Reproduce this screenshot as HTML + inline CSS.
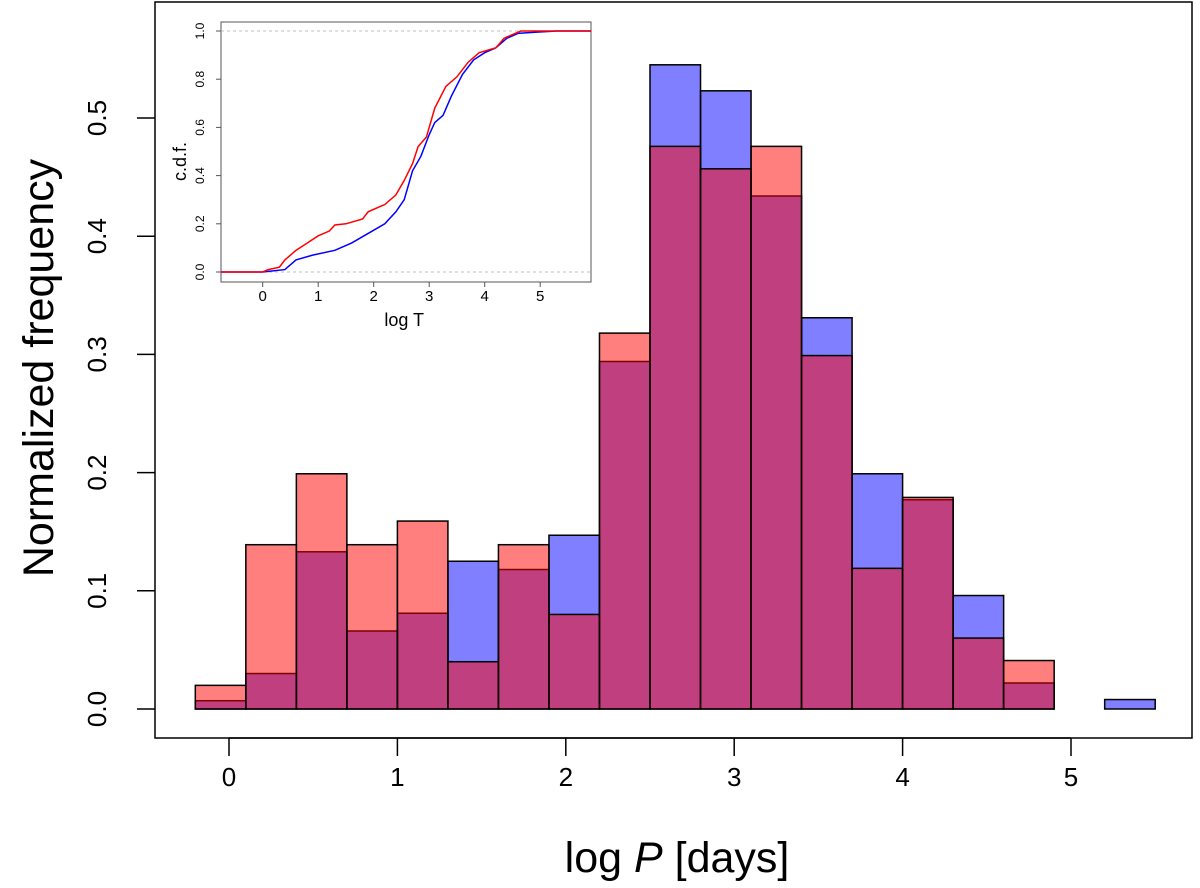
<!DOCTYPE html>
<html><head><meta charset="utf-8"><style>
body{margin:0;background:#fff}
svg{display:block;font-family:"Liberation Sans",Arial,sans-serif}
</style></head><body>
<svg id="chart" width="1200" height="888" viewBox="0 0 1200 888">
<rect x="0" y="0" width="1200" height="888" fill="#fff"/>
<g id="bars"></g>
<rect x="155" y="2" width="1037" height="736" fill="none" stroke="#000" stroke-width="1.5"/>
<g id="axes"></g>
<text transform="translate(53,368) rotate(-90)" text-anchor="middle" font-size="43">Normalized frequency</text>
<text x="677" y="872" text-anchor="middle" font-size="43">log <tspan font-style="italic">P</tspan> [days]</text>
<g id="inset"></g>
</svg>
<script>
const binEdgesStart = -0.2;
const binWidth = 0.3;
const redValues = [0.020,0.139,0.199,0.139,0.159,0.040,0.139,0.080,0.318,0.476,0.457,0.476,0.299,0.119,0.179,0.060,0.041,0,0];
const blueValues = [0.007,0.030,0.133,0.066,0.081,0.125,0.118,0.147,0.294,0.545,0.523,0.434,0.331,0.199,0.177,0.096,0.022,0,0.008];
const xTicks = [0,1,2,3,4,5];
const yTicks = [0.0,0.1,0.2,0.3,0.4,0.5];
const yTickLabels = ["0.0","0.1","0.2","0.3","0.4","0.5"];

const redCdfX = [-0.75,0,0.1,0.3,0.4,0.6,0.8,1.0,1.2,1.3,1.5,1.8,1.9,2.2,2.4,2.55,2.7,2.8,2.95,3.1,3.3,3.5,3.7,3.9,4.2,4.35,4.65,5.92];
const redCdfY = [0,0,0.01,0.02,0.05,0.09,0.12,0.15,0.17,0.195,0.2,0.22,0.25,0.28,0.32,0.38,0.45,0.52,0.56,0.68,0.77,0.81,0.87,0.91,0.93,0.97,1.0,1.0];
const blueCdfX = [-0.75,0,0.4,0.6,0.9,1.3,1.6,1.9,2.2,2.4,2.55,2.7,2.85,3.0,3.1,3.25,3.4,3.6,3.8,4.0,4.2,4.4,4.6,4.9,5.3,5.92];
const blueCdfY = [0,0,0.01,0.05,0.07,0.09,0.12,0.16,0.2,0.25,0.3,0.42,0.48,0.57,0.62,0.65,0.73,0.82,0.88,0.91,0.93,0.97,0.99,0.995,1.0,1.0];
const insetXTicks = [0,1,2,3,4,5];
const insetYTicks = [0,0.2,0.4,0.6,0.8,1.0];
const insetYTickLabels = ["0.0","0.2","0.4","0.6","0.8","1.0"];

const NS = "http://www.w3.org/2000/svg";
const X = v => 229 + v*168.4;
const Y = v => 709 - v*1182;
function mk(tag, attrs, parent){const e=document.createElementNS(NS,tag);for(const k in attrs)e.setAttribute(k,attrs[k]);parent.appendChild(e);return e;}

const bars = document.getElementById('bars');
[[blueValues,'rgba(0,0,255,0.5)','blue'],[redValues,'rgba(255,0,0,0.5)','red']].forEach(([vals,col,nm])=>{
  vals.forEach((v,i)=>{
    if(v<=0) return;
    const x0=X(binEdgesStart+i*binWidth), x1=X(binEdgesStart+(i+1)*binWidth);
    const r=mk('rect',{x:x0,y:Y(v),width:x1-x0,height:Y(0)-Y(v),fill:col,stroke:'#000','stroke-width':1.5},bars);
    
    
  });
});
const axes = document.getElementById('axes');
mk('line',{x1:X(0),x2:X(5),y1:738,y2:738,stroke:'#000','stroke-width':1.5},axes);
xTicks.forEach(t=>{
  mk('line',{x1:X(t),x2:X(t),y1:738,y2:756,stroke:'#000','stroke-width':1.5},axes);
  const tx=mk('text',{x:X(t),y:786,'text-anchor':'middle','font-size':26},axes);
  tx.textContent=t;
  
  
});
yTicks.forEach((t,i)=>{
  mk('line',{x1:137,x2:155,y1:Y(t),y2:Y(t),stroke:'#000','stroke-width':1.5},axes);
  const tx=mk('text',{transform:`translate(106,${Y(t)}) rotate(-90)`,'text-anchor':'middle','font-size':26},axes);
  tx.textContent=yTickLabels[i];
  
  
});

// inset
const inset = document.getElementById('inset');
const IX = v => 262.7 + v*55.5;
const IY = v => 272 - v*241;
mk('rect',{x:221,y:22,width:370,height:260,fill:'#fff',stroke:'#555','stroke-width':1},inset);
[0,1].forEach(v=>mk('line',{x1:221,x2:591,y1:IY(v),y2:IY(v),stroke:'#aaa','stroke-dasharray':'3,3','stroke-width':0.8},inset));
function linePath(xs,ys){let d=`M${IX(xs[0])},${IY(ys[0])}`;for(let i=1;i<xs.length;i++){d+=` L${IX(xs[i])},${IY(ys[i])}`;}return d;}
const bl=mk('path',{d:linePath(blueCdfX,blueCdfY),fill:'none',stroke:'#0000ff','stroke-width':1.5},inset);


const rl=mk('path',{d:linePath(redCdfX,redCdfY),fill:'none',stroke:'#ff0000','stroke-width':1.5},inset);


insetXTicks.forEach(t=>{
  mk('line',{x1:IX(t),x2:IX(t),y1:282,y2:287,stroke:'#555'},inset);
  const tx=mk('text',{x:IX(t),y:301,'text-anchor':'middle','font-size':15},inset);
  tx.textContent=t;
  
  
});
insetYTicks.forEach((t,i)=>{
  mk('line',{x1:216,x2:221,y1:IY(t),y2:IY(t),stroke:'#555'},inset);
  const tx=mk('text',{transform:`translate(204,${IY(t)}) rotate(-90)`,'text-anchor':'middle','font-size':12},inset);
  tx.textContent=insetYTickLabels[i];
  
  
});
const ixt=mk('text',{x:IX(2.55),y:326,'text-anchor':'middle','font-size':18},inset);
ixt.textContent='log T';


const iyt=mk('text',{transform:`translate(186,${IY(0.5)+10}) rotate(-90)`,'text-anchor':'middle','font-size':18},inset);
iyt.textContent='c.d.f.';


</script>
</body></html>
